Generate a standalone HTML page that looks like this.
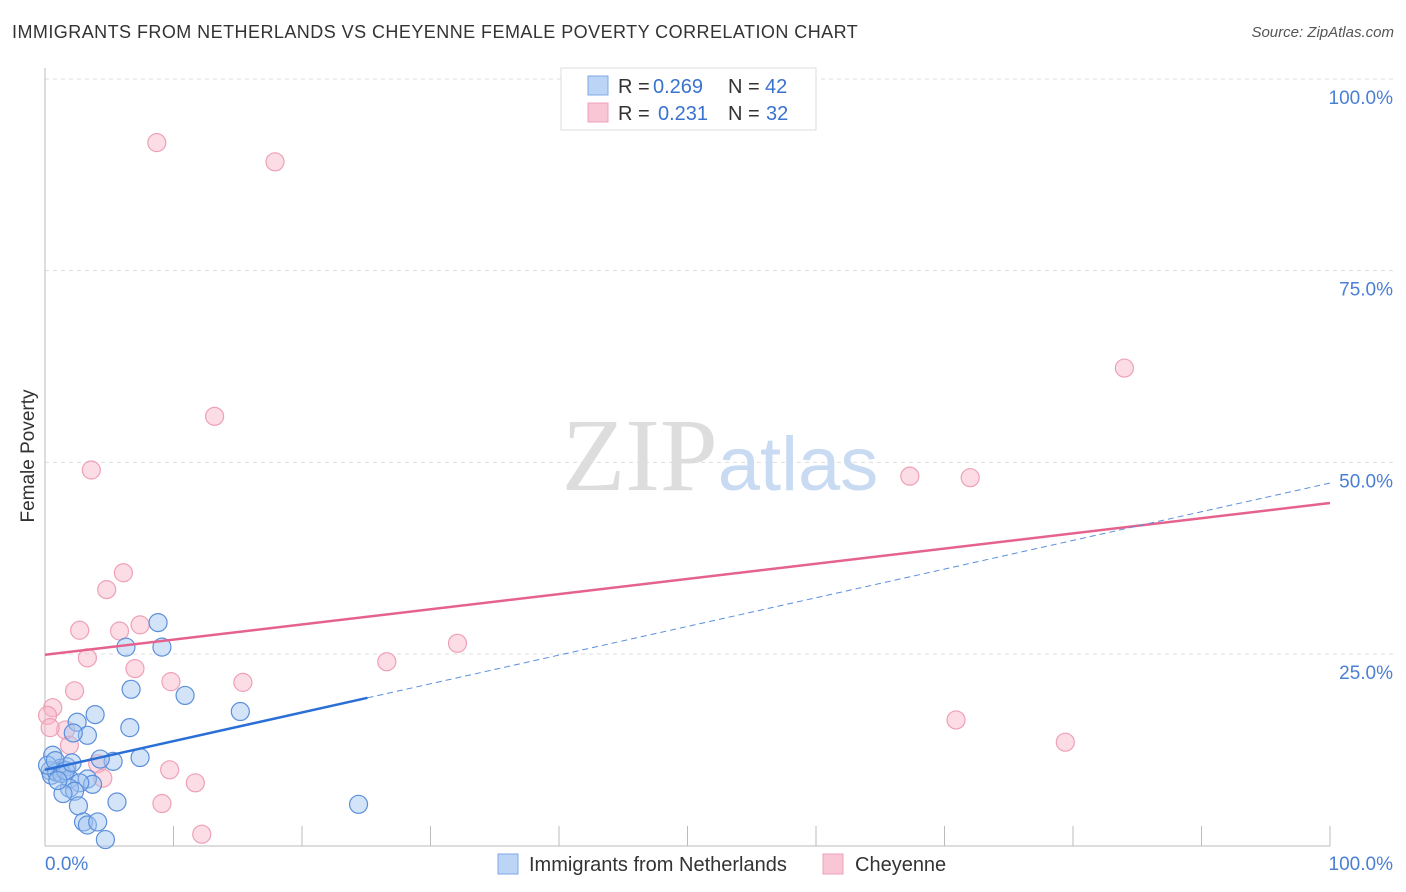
<!DOCTYPE html>
<html><head><meta charset="utf-8"><style>
body{margin:0;background:#fff;font-family:"Liberation Sans",sans-serif;}
#wrap{position:relative;width:1406px;height:892px;overflow:hidden;}
.t{position:absolute;white-space:nowrap;}
</style></head><body><div id="wrap">
<div class="t" style="left:12px;top:22px;font-size:18px;letter-spacing:0.45px;color:#333;">IMMIGRANTS FROM NETHERLANDS VS CHEYENNE FEMALE POVERTY CORRELATION CHART</div>
<div class="t" style="right:12px;top:24px;font-size:15px;color:#555;font-style:italic;">Source: ZipAtlas.com</div>
<svg id="svg" width="1406" height="892" style="position:absolute;left:0;top:0"></svg>
</div>
<script>
const xTickLabels=["0.0%","100.0%"];
const yTicks=[25,50,75,100];
const yTickLabels=["25.0%","50.0%","75.0%","100.0%"];
const blueX=[8.8,9.1,6.3,6.7,10.9,15.2,3.9,6.6,2.5,3.3,2.2,7.4,5.3,0.6,1.2,1.7,0.4,0.5,0.9,1.3,1.9,3.3,3.7,2.7,1.9,2.3,1.4,2.6,5.6,24.4,3.0,3.3,4.1,4.7,0.2,0.8,1.6,2.1,1.0,4.3];
const blueY=[29.1,25.9,25.9,20.4,19.6,17.5,17.1,15.4,16.1,14.4,14.7,11.5,11.0,11.8,10.1,10.3,9.8,9.2,9.6,9.4,8.7,8.7,8.0,8.2,7.5,7.1,6.8,5.2,5.7,5.4,3.1,2.7,3.1,0.8,10.5,11.1,9.8,10.8,8.5,11.3];
const pinkX=[8.7,17.9,13.2,3.6,84.0,67.3,72.0,6.1,4.8,2.7,5.8,7.4,3.3,32.1,26.6,7.0,9.8,15.4,2.3,0.6,1.6,1.9,4.1,4.5,9.7,11.7,9.1,12.2,70.9,79.4,0.2,0.4];
const pinkY=[91.7,89.2,56.0,49.0,62.3,48.2,48.0,35.6,33.4,28.1,28.0,28.8,24.5,26.4,24.0,23.1,21.4,21.3,20.2,18.0,15.1,13.1,10.7,8.8,9.9,8.2,5.5,1.5,16.4,13.5,17.0,15.4];
const blueTrend=[9.9,0.374]; // intercept, slope
const pinkTrend=[24.9,0.198];
const blueSolidEnd=25.1;

const svg=document.getElementById('svg');const NS="http://www.w3.org/2000/svg";
const X0=45,X1=1330,Y0=845.7,Y100=79;
const sx=v=>X0+(X1-X0)*v/100, sy=v=>Y0-(Y0-Y100)*v/100;
function el(tag,a,p){const e=document.createElementNS(NS,tag);for(const k in a)e.setAttribute(k,a[k]);(p||svg).appendChild(e);return e;}
yTicks.forEach((v,i)=>{
 const g=el('line',{x1:X0,x2:1395,y1:sy(v),y2:sy(v),stroke:'#ddd','stroke-dasharray':'4,4'});
 
 
 const t=el('text',{x:1393,y:sy(v)+25,'text-anchor':'end','font-size':19,fill:'#4a7fd4','font-family':'Liberation Sans, sans-serif'});
 t.textContent=yTickLabels[i];
 
 
});
const ax=el('line',{x1:X0,x2:X0,y1:68,y2:846,stroke:'#bbb'});
const bx=el('line',{x1:X0,x2:1330,y1:846,y2:846,stroke:'#bbb'});
for(let i=1;i<=10;i++){const tk=el('line',{x1:sx(i*10),x2:sx(i*10),y1:826,y2:846,stroke:'#bbb'});}
[[X0,'start',0],[1393,'end',1]].forEach(([x,a,i])=>{const t=el('text',{x:x,y:870,'text-anchor':a,'font-size':19,fill:'#4a7fd4','font-family':'Liberation Sans, sans-serif'});t.textContent=xTickLabels[i];});
const yl=el('text',{x:0,y:0,transform:'translate(34,456) rotate(-90)','text-anchor':'middle','font-size':19,fill:'#333','font-family':'Liberation Sans, sans-serif'});yl.textContent='Female Poverty';
const wm=el('text',{x:720,y:490,'text-anchor':'middle','font-size':104,'font-family':'Liberation Serif, serif'});
wm.innerHTML='<tspan fill="#ddd">ZIP</tspan><tspan fill="#c9daf3" font-family="Liberation Sans, sans-serif" font-size="76">atlas</tspan>';

pinkX.forEach((x,i)=>{const c=el('circle',{cx:sx(x),cy:sy(pinkY[i]),r:9,fill:'rgba(248,180,200,0.45)',stroke:'#eea0b6','stroke-width':1.2});});
blueX.forEach((x,i)=>{const c=el('circle',{cx:sx(x),cy:sy(blueY[i]),r:9,fill:'rgba(160,195,240,0.45)',stroke:'#5b8fdc','stroke-width':1.2});});
const f=(t,x)=>t[0]+t[1]*x;
const pl=el('line',{x1:sx(0),y1:sy(f(pinkTrend,0)),x2:sx(100),y2:sy(f(pinkTrend,100)),stroke:'#e5628c','stroke-width':2.5});
const bl=el('line',{x1:sx(0),y1:sy(f(blueTrend,0)),x2:sx(blueSolidEnd),y2:sy(f(blueTrend,blueSolidEnd)),stroke:'#2a6fd6','stroke-width':2.5});
const bd=el('line',{x1:sx(blueSolidEnd),y1:sy(f(blueTrend,blueSolidEnd)),x2:sx(100),y2:sy(f(blueTrend,100)),stroke:'#5b8fdc','stroke-width':1,'stroke-dasharray':'6,4'});
const lg=el('g',{});
el('rect',{x:561,y:68,width:255,height:62,fill:'#fff',stroke:'#ddd'},lg);
el('rect',{x:588,y:76,width:20,height:19,fill:'#bcd4f6',stroke:'#7fa8e6'},lg);
el('rect',{x:588,y:103,width:20,height:19,fill:'#f9c6d5',stroke:'#eea0b6'},lg);
const lt=el('text',{x:618,y:93,'font-size':20,fill:'#333','font-family':'Liberation Sans, sans-serif'},lg);
lt.innerHTML='R = <tspan x="653" fill="#3a72d0">0.269</tspan><tspan x="728">N = </tspan><tspan x="765" fill="#3a72d0">42</tspan>';
const lt2=el('text',{x:618,y:120,'font-size':20,fill:'#333','font-family':'Liberation Sans, sans-serif'},lg);
lt2.innerHTML='R = <tspan x="658" fill="#3a72d0">0.231</tspan><tspan x="728">N = </tspan><tspan x="766" fill="#3a72d0">32</tspan>';
const bl1=el('g',{});
el('rect',{x:498,y:854,width:20,height:20,fill:'#bcd4f6',stroke:'#7fa8e6'},bl1);
const b1=el('text',{x:529,y:871,'font-size':20,fill:'#333','font-family':'Liberation Sans, sans-serif'},bl1);b1.textContent='Immigrants from Netherlands';
const bl2=el('g',{});
el('rect',{x:823,y:854,width:20,height:20,fill:'#f9c6d5',stroke:'#eea0b6'},bl2);
const b2=el('text',{x:855,y:871,'font-size':20,fill:'#333','font-family':'Liberation Sans, sans-serif'},bl2);b2.textContent='Cheyenne';
</script></body></html>
